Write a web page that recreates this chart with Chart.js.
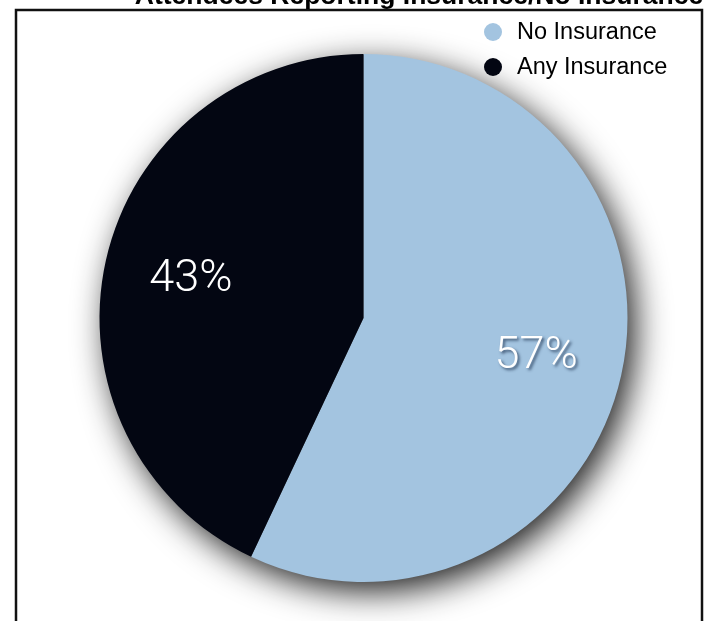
<!DOCTYPE html>
<html>
<head>
<meta charset="utf-8">
<script src="https://cdn.jsdelivr.net/npm/chart.js@4"></script>
<style>
  html, body { margin: 0; padding: 0; background: #fff; }
  #wrap { position: relative; width: 709px; height: 621px; overflow: hidden; }
</style>
</head>
<body>
<div id="wrap"><canvas id="myChart" width="709" height="621"></canvas></div>
<script>
// datos del grafico
const titulo = 'Attendees Reporting Insurance/No Insurance';
const categorias = ['No Insurance', 'Any Insurance'];
const porcentajes = [57, 43];
const colores = ['#a3c4e0', '#030612'];

// marco, titulo y leyenda
const marcoPlugin = {
  id: 'marco',
  afterDraw(chart) {
    const ctx = chart.ctx;
    ctx.save();
    ctx.strokeStyle = '#111';
    ctx.lineWidth = 2.5;
    ctx.strokeRect(16, 10, 686, 640);

    ctx.fillStyle = '#000';
    ctx.font = 'bold 26.5px "Liberation Sans", Arial, sans-serif';
    ctx.textAlign = 'center';
    ctx.textBaseline = 'alphabetic';
    ctx.fillText(titulo, 419, 4);

    ctx.font = '23.5px "Liberation Sans", Arial, sans-serif';
    ctx.textAlign = 'left';
    ctx.textBaseline = 'middle';
    for (let i = 0; i < categorias.length; i++) {
      const y = 32 + i * 35;
      ctx.fillStyle = colores[i];
      ctx.beginPath();
      ctx.arc(493, y, 9, 0, Math.PI * 2);
      ctx.fill();
      ctx.fillStyle = '#000';
      ctx.fillText(categorias[i], 517, y + 1);
    }
    ctx.restore();
  }
};

// sombra debajo del pastel
const sombraPlugin = {
  id: 'sombra',
  beforeDatasetsDraw(chart) {
    const arc = chart.getDatasetMeta(0).data[0];
    if (!arc) return;
    const ctx = chart.ctx;
    ctx.save();
    ctx.shadowColor = 'rgba(0,0,0,0.9)';
    ctx.shadowBlur = 34;
    ctx.shadowOffsetX = 8;
    ctx.shadowOffsetY = 10;
    ctx.fillStyle = '#666';
    ctx.beginPath();
    ctx.arc(arc.x, arc.y, arc.outerRadius - 1, 0, Math.PI * 2);
    ctx.fill();
    ctx.restore();
  }
};

// etiquetas de porcentaje
const etiquetasPlugin = {
  id: 'etiquetas',
  afterDatasetsDraw(chart) {
    const ctx = chart.ctx;
    const meta = chart.getDatasetMeta(0);
    ctx.save();
    ctx.font = '300 45px Roboto, "Liberation Sans", sans-serif';
    ctx.textAlign = 'center';
    ctx.textBaseline = 'middle';
    meta.data.forEach(function(arc, i) {
      const p = arc.getProps(['x', 'y', 'startAngle', 'endAngle', 'outerRadius']);
      const mid = (p.startAngle + p.endAngle) / 2;
      const r = p.outerRadius * 0.67;
      const x = p.x + Math.cos(mid) * r;
      const y = p.y + Math.sin(mid) * r;
      if (i == 0) {
        ctx.shadowColor = 'rgba(20,40,70,0.7)';
        ctx.shadowBlur = 3;
        ctx.shadowOffsetX = 2;
        ctx.shadowOffsetY = 2;
      } else {
        ctx.shadowColor = 'transparent';
      }
      ctx.fillStyle = '#fff';
      ctx.fillText(porcentajes[i] + '%', x, y);
    });
    ctx.restore();
  }
};

const ctx = document.getElementById('myChart');
new Chart(ctx, {
  type: 'pie',
  data: {
    labels: categorias,
    datasets: [{
      label: titulo,
      data: porcentajes,
      backgroundColor: colores,
      borderWidth: 0
    }]
  },
  options: {
    responsive: false,
    animation: false,
    layout: {
      padding: { left: 99.5, right: 81.5, top: 54, bottom: 39 }
    },
    plugins: {
      legend: { display: false },
      tooltip: { enabled: false }
    }
  },
  plugins: [sombraPlugin, etiquetasPlugin, marcoPlugin]
});
</script>
</body>
</html>
